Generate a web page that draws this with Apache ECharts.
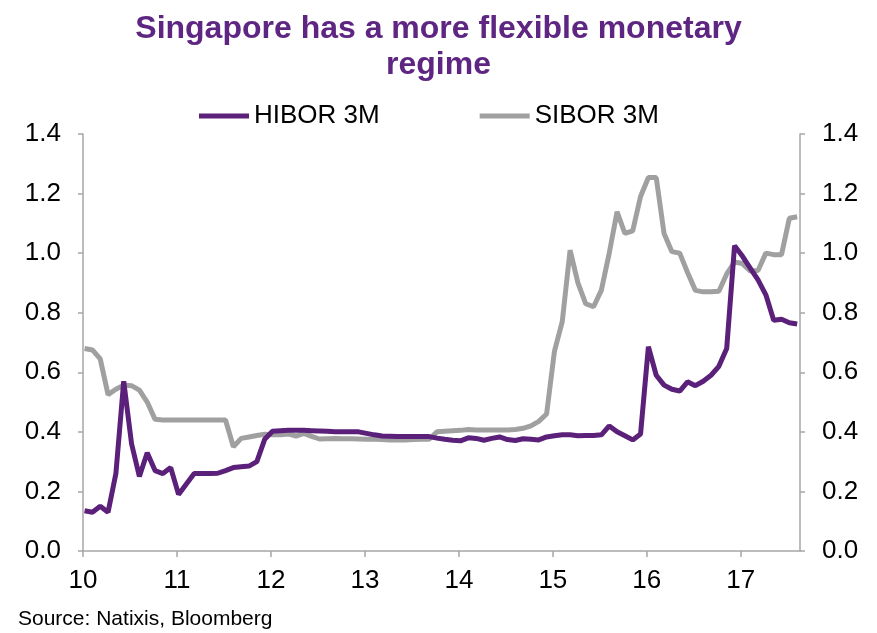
<!DOCTYPE html>
<html>
<head>
<meta charset="utf-8">
<script src="https://cdn.jsdelivr.net/npm/echarts@6/dist/echarts.min.js"></script>
<style>
  html, body { margin: 0; padding: 0; background: #fff; }
  #chart { width: 877px; height: 633px; }
</style>
</head>
<body>
<div id="chart"></div>
<script>
// Monthly observations, Jan 2010 .. Aug 2017 (year axis labelled 10..17)
const startYear = 10;
const yearTicks = [10, 11, 12, 13, 14, 15, 16, 17];
const yTicks = [0, 0.2, 0.4, 0.6, 0.8, 1.0, 1.2, 1.4];

const hibor = [
  0.135, 0.13, 0.15, 0.13, 0.26, 0.57, 0.36, 0.25, 0.33, 0.27, 0.26, 0.28,
  0.19, 0.225, 0.26, 0.26, 0.26, 0.261, 0.27, 0.28, 0.283, 0.285, 0.30, 0.375,
  0.402, 0.404, 0.405, 0.405, 0.405, 0.404, 0.403, 0.402, 0.40, 0.40, 0.40, 0.40,
  0.395, 0.39, 0.386, 0.385, 0.384, 0.384, 0.384, 0.384, 0.384, 0.379, 0.375, 0.372,
  0.370, 0.38, 0.378, 0.372, 0.378, 0.383, 0.374, 0.371, 0.377, 0.375, 0.373, 0.383,
  0.387, 0.39, 0.39, 0.387, 0.388, 0.388, 0.39, 0.42, 0.40, 0.387, 0.373, 0.393,
  0.686, 0.59, 0.557, 0.543, 0.537, 0.568, 0.555, 0.57, 0.59, 0.62, 0.68, 1.025,
  0.99, 0.95, 0.91, 0.86, 0.775, 0.778, 0.766, 0.762
];

const sibor = [
  0.68, 0.675, 0.645, 0.525, 0.543, 0.557, 0.555, 0.54, 0.50, 0.442, 0.44, 0.44,
  0.44, 0.44, 0.44, 0.44, 0.44, 0.44, 0.44, 0.35, 0.378, 0.383, 0.388, 0.392,
  0.39, 0.39, 0.393, 0.386, 0.395, 0.385, 0.376, 0.377, 0.378, 0.377, 0.377, 0.376,
  0.375, 0.375, 0.374, 0.373, 0.373, 0.373, 0.374, 0.375, 0.375, 0.40, 0.402, 0.404,
  0.405, 0.408, 0.406, 0.406, 0.406, 0.406, 0.406, 0.408, 0.412, 0.42, 0.435, 0.46,
  0.67, 0.77, 1.01, 0.90, 0.83, 0.82, 0.876, 1.0, 1.139, 1.066, 1.075, 1.19,
  1.254, 1.254, 1.066, 1.005, 1.0, 0.935, 0.875, 0.87, 0.87, 0.872, 0.93, 0.97,
  0.965, 0.94, 0.942, 1.0, 0.995, 0.995, 1.117, 1.122
];

const toPairs = arr => arr.map((v, m) => [startYear + (m + 0.2) / 12, v]);

const purple = '#5B2079';
const grey = '#A0A0A0';
const axisGrey = '#A6A6A6';
const font = 'Liberation Sans, Arial, sans-serif';

const chart = echarts.init(document.getElementById('chart'));

const yAxisBase = {
  type: 'value',
  min: yTicks[0],
  max: yTicks[yTicks.length - 1],
  interval: 0.2,
  axisLine: { show: true, lineStyle: { color: axisGrey, width: 1.5 } },
  axisTick: { show: true, length: 5, lineStyle: { color: axisGrey, width: 1.5 } },
  splitLine: { show: false },
  axisLabel: {
    color: '#000', fontSize: 26, fontFamily: font, margin: 22,
    formatter: v => v.toFixed(1)
  }
};

chart.setOption({
  animation: false,
  backgroundColor: '#fff',
  title: {
    text: 'Singapore has a more flexible monetary\nregime',
    left: 'center',
    top: 6,
    textStyle: {
      color: '#5E2682', fontSize: 32, fontWeight: 'bold',
      fontFamily: font, lineHeight: 36
    }
  },
  legend: {
    left: 194,
    top: 98,
    icon: 'rect',
    itemWidth: 50,
    itemHeight: 5,
    itemGap: 100,
    textStyle: { color: '#000', fontSize: 26, fontFamily: font },
    data: ['HIBOR 3M', 'SIBOR 3M']
  },
  grid: { left: 83, right: 77, top: 134, bottom: 82, containLabel: false },
  xAxis: {
    type: 'value',
    min: yearTicks[0],
    max: 17.63,
    interval: 1,
    axisLine: { show: true, lineStyle: { color: axisGrey, width: 1.5 } },
    axisTick: { show: true, length: 6, lineStyle: { color: axisGrey, width: 1.5 } },
    splitLine: { show: false },
    axisLabel: {
      color: '#000', fontSize: 26, fontFamily: font, margin: 17,
      showMaxLabel: false,
      formatter: v => (yearTicks.indexOf(Math.round(v * 1000) / 1000) >= 0 ? String(v) : '')
    }
  },
  yAxis: [
    Object.assign({}, yAxisBase, { position: 'left' }),
    Object.assign({}, yAxisBase, { position: 'right' })
  ],
  series: [
    {
      name: 'HIBOR 3M', type: 'line', yAxisIndex: 0,
      data: toPairs(hibor), showSymbol: false, symbol: 'none',
      lineStyle: { color: purple, width: 5 }, itemStyle: { color: purple },
      z: 3
    },
    {
      name: 'SIBOR 3M', type: 'line', yAxisIndex: 1,
      data: toPairs(sibor), showSymbol: false, symbol: 'none',
      lineStyle: { color: grey, width: 5 }, itemStyle: { color: grey },
      z: 2
    }
  ],
  graphic: [
    {
      type: 'text', left: 18, top: 609,
      style: { text: 'Source: Natixis, Bloomberg', fill: '#000', fontSize: 21, fontFamily: font }
    }
  ]
});
</script>
</body>
</html>
